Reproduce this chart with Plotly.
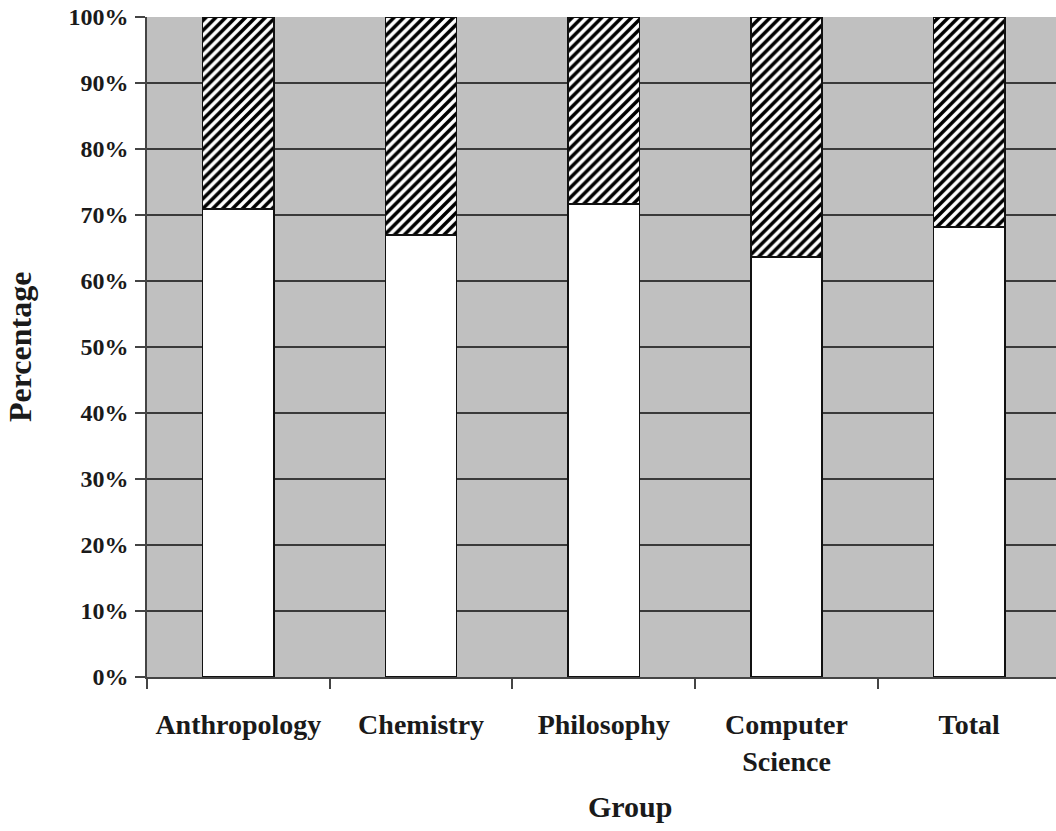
import plotly.graph_objects as go

categories = ["Anthropology", "Chemistry", "Philosophy", "Computer<br>Science", "Total"]
lower_share = [0.709, 0.670, 0.717, 0.636, 0.682]
upper_share = [round(1 - v, 3) for v in lower_share]

FONT = "Liberation Serif"
TXT = "#1a1a1a"

W, H = 1056, 831
L, T, B = 147, 17, 154

fig = go.Figure()
fig.add_trace(go.Bar(
    x=categories, y=lower_share, name="Lower",
    marker=dict(color="white", line=dict(color="#111111", width=1.5)),
))
fig.add_trace(go.Bar(
    x=categories, y=upper_share, name="Upper",
    marker=dict(color="white", line=dict(color="#111111", width=1.5),
                pattern=dict(shape="/", fgcolor="#000000", bgcolor="white",
                             fgopacity=1, size=7, solidity=0.5)),
))

fig.update_layout(
    barmode="stack",
    bargap=0.61,
    showlegend=False,
    width=W, height=H,
    paper_bgcolor="white",
    plot_bgcolor="#c0c0c0",
    margin=dict(l=L, r=0, t=T, b=B),
    font=dict(family=FONT, color=TXT),
    xaxis=dict(
        type="category",
        range=[-0.5, 4.475],
        tickson="boundaries",
        ticks="outside", ticklen=10, tickwidth=1.5, tickcolor="#444444",
        showline=True, linecolor="#444444", linewidth=1.5,
        showgrid=False,
        ticklabelstandoff=22,
        tickfont=dict(family=FONT, size=28, color=TXT, weight="bold"),
    ),
    yaxis=dict(
        range=[0, 1],
        dtick=0.1,
        tickformat=".0%",
        ticks="outside", ticklen=10, tickwidth=1.5, tickcolor="#444444",
        showline=True, linecolor="#444444", linewidth=1.5,
        showgrid=True, gridcolor="#3a3a3a", gridwidth=2,
        zeroline=False,
        ticklabelstandoff=2,
        tickfont=dict(family=FONT, size=24, color=TXT, weight="bold"),
    ),
)

pw = W - L
ph = H - T - B

def paper_xy(px, py):
    return (px - L) / pw, (H - B - py) / ph

ax, ay = paper_xy(20, 347)
gx, gy = paper_xy(630, 806)
fig.add_annotation(text="<b>Percentage</b>", x=ax, y=ay, xref="paper", yref="paper",
                   xanchor="center", yanchor="middle", showarrow=False, textangle=-90,
                   font=dict(family=FONT, size=32, color=TXT))
fig.add_annotation(text="<b>Group</b>", x=gx, y=gy, xref="paper", yref="paper",
                   xanchor="center", yanchor="middle", showarrow=False,
                   font=dict(family=FONT, size=30, color=TXT))

fig.write_html("out.html", config={"displayModeBar": False},
               post_script="document.body.style.margin='0';")
